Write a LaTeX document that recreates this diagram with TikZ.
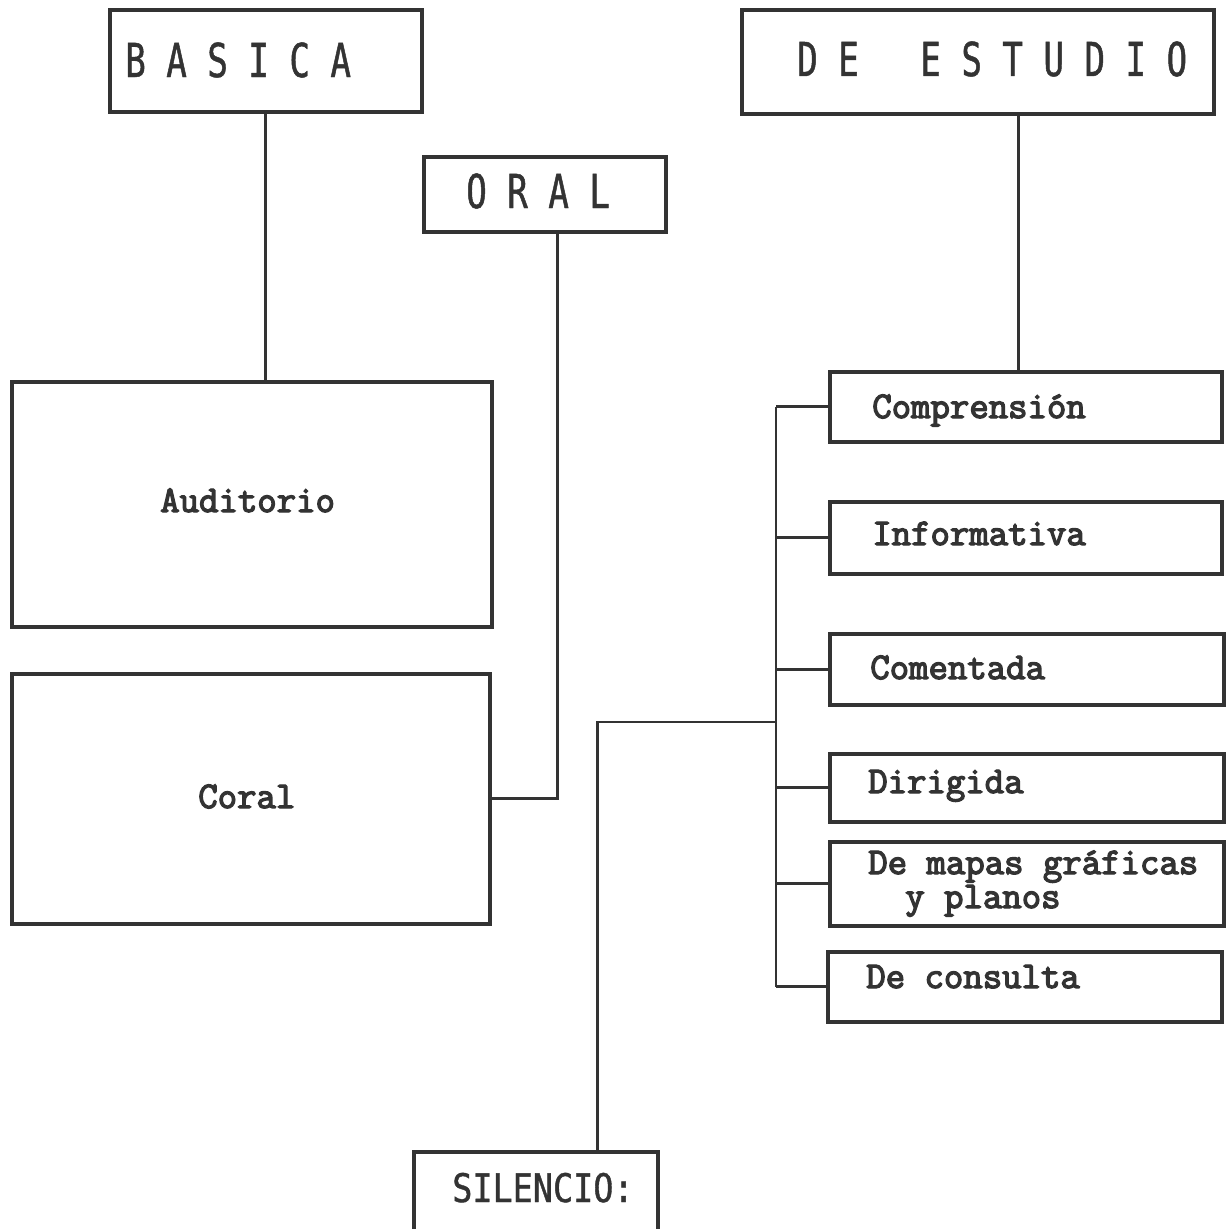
\documentclass[tikz,border=0pt]{standalone}
\usepackage{fontspec}
\usetikzlibrary{calc}
\newfontfamily\headfont{DejaVu Sans Mono}[FakeStretch=0.73,FakeBold=1]
\newfontfamily\silfont{DejaVu Sans Mono}[FakeStretch=0.85,FakeBold=1]
\newfontfamily\bodyfont{Latin Modern Mono}[FakeBold=3.5]
\definecolor{ink}{HTML}{333333}
\begin{document}
\begin{tikzpicture}[x=0.025cm,y=-0.025cm,
  box/.style n args={2}{rectangle, draw=ink, line width=2.6pt, fill=none,
    minimum width=#1*0.025cm, minimum height=#2*0.025cm, inner sep=0pt, anchor=north west},
  link/.style={draw=ink, line width=2.1pt},
  head/.style={font=\headfont\fontsize{33.2}{40}\selectfont, text=ink, inner sep=0pt, anchor=base west},
  silhead/.style={font=\silfont\fontsize{28}{34}\selectfont, text=ink, inner sep=0pt, anchor=base west},
  body/.style={font=\bodyfont\fontsize{26.8}{23}\selectfont, text=ink, inner sep=0pt, anchor=base west}]
\useasboundingbox (0,0) rectangle (1226,1229);
\clip (0,0) rectangle (1226,1229);
\fill[white] (0,0) rectangle (1226,1229);

% boxes
\node[box={312}{102}] (basica) at (108,8) {};
\node[box={472}{104}] (estudio) at (740,8) {};
\node[box={242}{75}] (oral) at (422,155) {};
\node[box={480}{245}] (auditorio) at (10,380) {};
\node[box={478}{250}] (coral) at (10,672) {};
\node[box={392}{70}] (comp) at (828,370) {};
\node[box={392}{72}] (info) at (828,500) {};
\node[box={394}{71}] (coment) at (828,632) {};
\node[box={394}{68}] (dirig) at (828,752) {};
\node[box={394}{84}] (mapas) at (828,840) {};
\node[box={394}{70}] (consulta) at (826,950) {};
\node[box={244}{100}] (silencio) at (412,1150) {};

% texts
\node[head] (basica-t) at (125,77) {B~A~S~I~C~A};
\node[head] (estudio-t) at (797,76) {D~E~~~E~S~T~U~D~I~O};
\node[head] (oral-t) at (466,208) {O~R~A~L};
\node[silhead] (silencio-t) at (452,1202) {SILENCIO:};
\node[body] (auditorio-t) at (160,512) {Auditorio};
\node[body] (coral-t) at (198,808) {Coral};
\node[body] (comp-t) at (872,418) {Comprensión};
\node[body] (info-t) at (872,545) {Informativa};
\node[body] (coment-t) at (870,679) {Comentada};
\node[body] (dirig-t) at (868,793) {Dirigida};
\node[body] (mapas-t1) at (868,874) {De mapas gráficas};
\node[body] (mapas-t2) at (905,908) {y planos};
\node[body] (consulta-t) at (866,988) {De consulta};

% connectors
\coordinate (bus) at (776,0);
\coordinate (sj) at (776,722);
\draw[link] (basica.south) -- (basica.south |- auditorio.north);
\draw[link] ($(oral.south)+(13,0)$) |- (coral.east);
\draw[link] ($(estudio.south)+(41,0)$) -- ($(comp.north)+(-7,0)$);
\draw[link] (comp.west -| bus) -- (consulta.west -| bus);
\foreach \n in {comp,info,coment,dirig,mapas,consulta}
  \draw[link] (\n.west) -- (\n.west -| bus);
\draw[link] (sj) -| ($(silencio.north)+(62,0)$);
\end{tikzpicture}
\end{document}
